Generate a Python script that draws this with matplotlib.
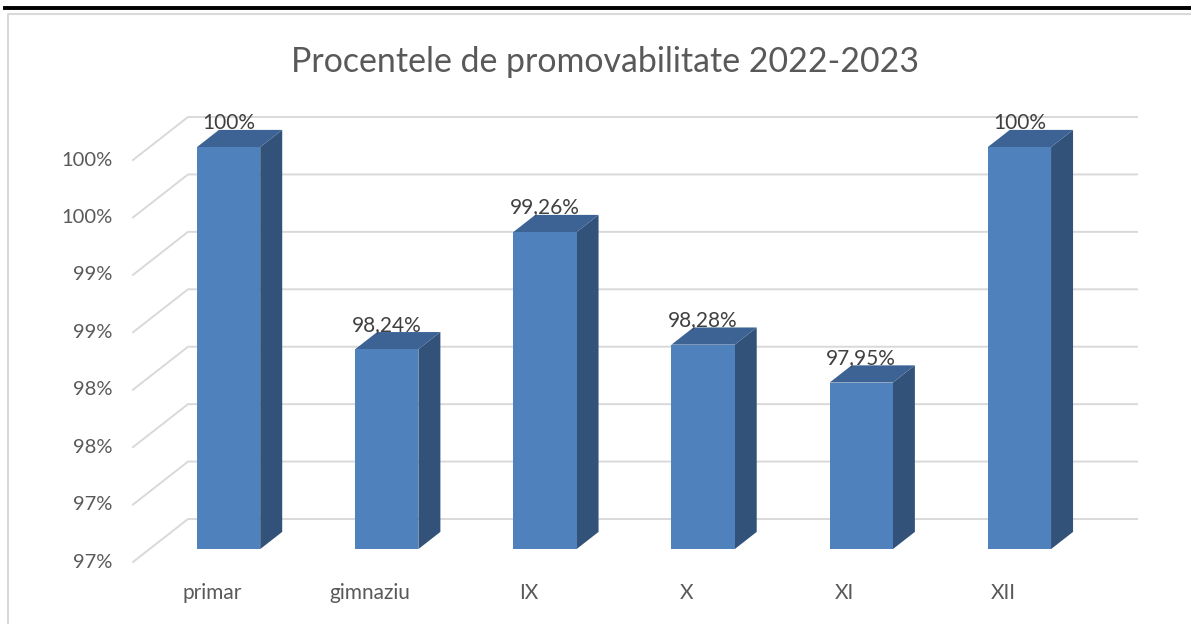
import matplotlib
matplotlib.use("Agg")
import matplotlib.pyplot as plt
from matplotlib.patches import Polygon
from matplotlib.lines import Line2D

plt.rcParams['font.family'] = ['Lato', 'DejaVu Sans']

# date
categorii = ["primar", "gimnaziu", "IX", "X", "XI", "XII"]
valori = [100.0, 98.24, 99.26, 98.28, 97.95, 100.0]
etichete = ["100%", "98,24%", "99,26%", "98,28%", "97,95%", "100%"]
ticks = [96.5, 97.0, 97.5, 98.0, 98.5, 99.0, 99.5, 100.0]
tick_labels = ["97%", "97%", "98%", "98%", "99%", "99%", "100%", "100%"]

W, H = 1191, 624
fig = plt.figure(figsize=(W / 100, H / 100), dpi=100)
fig.patch.set_facecolor("white")

# chenar + linia neagra de sus
fig.add_artist(Line2D([5 / W, 1], [1 - 8 / H, 1 - 8 / H], color="black", lw=2.8))
fig.add_artist(Line2D([8 / W, 8 / W, 1], [0, 1 - 14 / H, 1 - 14 / H], color="#D9D9D9", lw=1.5))

ax = fig.add_axes([133 / W, 62 / H, 949 / W, 402 / H])
ax.set_xlim(-0.5, 5.5)
ax.set_ylim(96.5, 100.0)
ax.axis("off")

# adancimea (perspectiva oblica)
DX = 55 / 158.17
DY = 43 / 114.86


def proj(x, v, z):
    return (x + z * DX, v + z * DY)


# linii de grila: perete lateral + perete spate
for v in ticks:
    xs, ys = zip(proj(-0.5, v, 0), proj(-0.5, v, 1), proj(5.5, v, 1))
    ax.plot(xs, ys, color="#D9D9D9", lw=1.4, clip_on=False, zorder=1)

for v, lab in zip(ticks, tick_labels):
    ax.annotate(lab, xy=(-0.5, v), xytext=(-15, 0), textcoords="offset points",
                ha="right", va="center", fontsize=14.5, color="#595959", annotation_clip=False)

z0, z1 = 0.3, 0.7
half = 0.2
base = 96.5
for i, (v, lab) in enumerate(zip(valori, etichete)):
    x0, x1 = i - half, i + half
    fata = [proj(x0, base, z0), proj(x1, base, z0), proj(x1, v, z0), proj(x0, v, z0)]
    lateral = [proj(x1, base, z0), proj(x1, base, z1), proj(x1, v, z1), proj(x1, v, z0)]
    sus = [proj(x0, v, z0), proj(x1, v, z0), proj(x1, v, z1), proj(x0, v, z1)]
    ax.add_patch(Polygon(lateral, closed=True, facecolor="#32527A", edgecolor="none", zorder=3, clip_on=False))
    ax.add_patch(Polygon(sus, closed=True, facecolor="#3C6394", edgecolor="none", zorder=3, clip_on=False))
    ax.add_patch(Polygon(fata, closed=True, facecolor="#4F81BD", edgecolor="none", zorder=4, clip_on=False))
    ax.annotate(lab, xy=(i + z0 * DX, v + z1 * DY), xytext=(0, 1), textcoords="offset points",
                ha="center", va="baseline", fontsize=15, color="#404040", annotation_clip=False, zorder=5)
    ax.annotate(categorii[i], xy=(i, base), xytext=(0, -22), textcoords="offset points",
                ha="center", va="center", fontsize=15, color="#595959", annotation_clip=False)

fig.text(605 / W, 1 - 62 / H, "Procentele de promovabilitate 2022-2023",
         ha="center", va="center", fontsize=24.4, color="#595959")

fig.savefig("out.png", dpi=100)
plt.close(fig)
